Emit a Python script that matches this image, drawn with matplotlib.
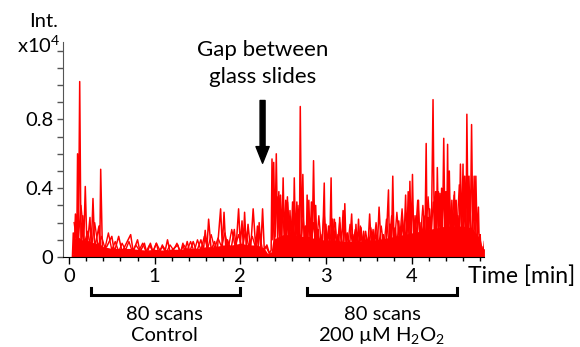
import numpy as np
import matplotlib
matplotlib.use("Agg")
import matplotlib.pyplot as plt

plt.rcParams['font.family'] = ['Lato', 'DejaVu Sans']
plt.rcParams['mathtext.fontset'] = 'custom'
plt.rcParams['mathtext.rm'] = 'Lato'

# main spikes (time in min, intensity x10^4)
peak_t = [0.04, 0.05, 0.06, 0.075, 0.09, 0.10, 0.11, 0.125, 0.14, 0.16, 0.17, 0.19, 0.21,
          0.245, 0.26, 0.28, 0.30, 0.35, 0.36, 0.37, 0.39, 0.44, 0.50, 0.53, 0.58, 0.62,
          0.72, 0.75, 0.80, 0.83, 0.88, 0.91, 0.95, 0.98, 1.02, 1.05, 1.09, 1.12, 1.15,
          1.18, 1.27, 1.30, 1.33, 1.35, 1.38, 1.41, 1.45, 1.49, 1.54, 1.57, 1.59, 1.61,
          1.63, 1.66, 1.70, 1.73, 1.77, 1.79, 1.81, 1.83, 1.85, 1.89, 1.93, 1.95, 1.98,
          2.00, 2.02, 2.035, 2.05, 2.07, 2.09, 2.12, 2.15, 2.18, 2.20, 2.21, 2.22, 2.24,
          2.26, 2.28, 2.31, 2.34, 2.36, 2.37, 2.38, 2.39, 2.405, 2.42, 2.435, 2.45, 2.46,
          2.47, 2.485, 2.50, 2.515, 2.53, 2.54, 2.55, 2.565, 2.58, 2.595, 2.61, 2.62, 2.63,
          2.645, 2.66, 2.67, 2.68, 2.69, 2.70, 2.715, 2.73, 2.745, 2.76, 2.77, 2.78, 2.79,
          2.80, 2.815, 2.83, 2.84, 2.855, 2.87, 2.88, 2.895, 2.91, 2.925, 2.94, 2.96, 2.98,
          2.99, 3.00, 3.015, 3.03, 3.045, 3.06, 3.07, 3.08, 3.095, 3.11, 3.125, 3.14, 3.15,
          3.16, 3.18, 3.20, 3.21, 3.22, 3.235, 3.25, 3.275, 3.30, 3.315, 3.33, 3.34, 3.35,
          3.365, 3.38, 3.395, 3.41, 3.425, 3.44, 3.455, 3.47, 3.49, 3.51, 3.53, 3.55, 3.565,
          3.58, 3.60, 3.62, 3.645, 3.67, 3.70, 3.73, 3.74, 3.75, 3.765, 3.78, 3.795, 3.81,
          3.83, 3.85, 3.87, 3.89, 3.91, 3.93, 3.945, 3.96, 3.97, 3.98, 3.995, 4.01, 4.025,
          4.04, 4.06, 4.08, 4.095, 4.11, 4.125, 4.14, 4.155, 4.17, 4.18, 4.19, 4.20, 4.21,
          4.23, 4.25, 4.265, 4.28, 4.29, 4.30, 4.315, 4.33, 4.34, 4.35, 4.36, 4.375, 4.39,
          4.40, 4.41, 4.42, 4.43, 4.44, 4.455, 4.47, 4.485, 4.50, 4.51, 4.52, 4.53, 4.54,
          4.555, 4.57, 4.585, 4.60, 4.61, 4.62, 4.635, 4.645, 4.66, 4.67, 4.685, 4.70,
          4.715, 4.73, 4.74, 4.75, 4.765, 4.78, 4.79, 4.80, 4.81, 4.82, 4.835, 4.85]
peak_y = [0.0, 0.14, 0.02, 0.25, 0.03, 0.60, 0.05, 1.02, 0.04, 0.24, 0.04, 0.41, 0.05,
          0.23, 0.04, 0.34, 0.05, 0.18, 0.05, 0.51, 0.04, 0.06, 0.12, 0.03, 0.12, 0.03,
          0.13, 0.03, 0.10, 0.03, 0.08, 0.02, 0.08, 0.03, 0.08, 0.02, 0.07, 0.03, 0.10,
          0.03, 0.07, 0.02, 0.08, 0.03, 0.09, 0.03, 0.09, 0.03, 0.10, 0.04, 0.155, 0.05,
          0.22, 0.04, 0.09, 0.03, 0.28, 0.06, 0.26, 0.05, 0.10, 0.04, 0.16, 0.05, 0.28,
          0.07, 0.21, 0.06, 0.26, 0.05, 0.19, 0.04, 0.28, 0.05, 0.18, 0.05, 0.20, 0.05,
          0.28, 0.04, 0.07, 0.02, 0.04, 0.57, 0.10, 0.55, 0.12, 0.60, 0.10, 0.38, 0.08,
          0.36, 0.09, 0.46, 0.08, 0.33, 0.10, 0.35, 0.07, 0.27, 0.08, 0.32, 0.10, 0.46,
          0.07, 0.32, 0.09, 0.24, 0.06, 0.875, 0.08, 0.48, 0.06, 0.18, 0.05, 0.36, 0.08,
          0.33, 0.07, 0.32, 0.09, 0.56, 0.08, 0.30, 0.05, 0.16, 0.05, 0.13, 0.06, 0.43,
          0.07, 0.19, 0.05, 0.18, 0.07, 0.46, 0.08, 0.22, 0.06, 0.20, 0.05, 0.13, 0.05,
          0.23, 0.06, 0.27, 0.08, 0.31, 0.05, 0.14, 0.05, 0.25, 0.05, 0.13, 0.06, 0.19,
          0.05, 0.22, 0.06, 0.17, 0.05, 0.15, 0.05, 0.12, 0.06, 0.25, 0.06, 0.16, 0.05,
          0.16, 0.06, 0.29, 0.05, 0.13, 0.05, 0.39, 0.07, 0.19, 0.06, 0.47, 0.06, 0.17,
          0.06, 0.21, 0.06, 0.22, 0.07, 0.36, 0.08, 0.38, 0.10, 0.44, 0.09, 0.48, 0.07,
          0.24, 0.08, 0.33, 0.07, 0.20, 0.08, 0.24, 0.09, 0.66, 0.10, 0.23, 0.09, 0.28,
          0.10, 0.915, 0.10, 0.38, 0.10, 0.52, 0.10, 0.37, 0.12, 0.40, 0.10, 0.69, 0.10,
          0.38, 0.12, 0.655, 0.10, 0.50, 0.09, 0.33, 0.10, 0.38, 0.12, 0.33, 0.10, 0.24,
          0.09, 0.54, 0.12, 0.54, 0.11, 0.47, 0.10, 0.83, 0.12, 0.47, 0.10, 0.77,
          0.11, 0.47, 0.12, 0.47, 0.10, 0.29, 0.06, 0.13, 0.03, 0.06, 0.02, 0.09]

# smaller overlapping scans (texture)
ctrl_y = [0.2, 0.05, 0.3, 0.08, 0.15, 0.04, 0.2, 0.06, 0.12, 0.05,
          0.14, 0.04, 0.09, 0.03, 0.08, 0.04, 0.09, 0.03, 0.07, 0.04,
          0.08, 0.03, 0.07, 0.03, 0.08, 0.04, 0.06, 0.03, 0.07, 0.04,
          0.08, 0.03, 0.07, 0.04, 0.09, 0.03, 0.1, 0.04, 0.12, 0.05,
          0.13, 0.05, 0.11, 0.06, 0.14, 0.05, 0.16, 0.06, 0.13, 0.05,
          0.15, 0.06, 0.12, 0.05, 0.14, 0.04, 0.06, 0.02]
h2o2_y = [0.3, 0.08, 0.35, 0.1, 0.28, 0.07, 0.32, 0.09, 0.25, 0.06,
          0.3, 0.08, 0.22, 0.06, 0.27, 0.07, 0.2, 0.05, 0.24, 0.06,
          0.26, 0.07, 0.18, 0.05, 0.22, 0.06, 0.2, 0.05, 0.17, 0.05,
          0.19, 0.06, 0.16, 0.05, 0.18, 0.05, 0.15, 0.04, 0.17, 0.05,
          0.2, 0.06, 0.18, 0.05, 0.22, 0.07, 0.24, 0.06, 0.26, 0.08,
          0.28, 0.07, 0.25, 0.08, 0.3, 0.09, 0.33, 0.1, 0.3, 0.09,
          0.35, 0.1, 0.32, 0.11, 0.38, 0.1, 0.34, 0.12, 0.4, 0.11,
          0.36, 0.12, 0.42, 0.11, 0.38, 0.1, 0.3, 0.08, 0.2, 0.05,
          0.1, 0.03]
ctrl_t = np.linspace(0.06, 2.34, len(ctrl_y))
h2o2_t = np.linspace(2.37, 4.83, len(h2o2_y))

# solid band at the bottom where all scans overlap
base_t = [0.04, 0.05, 0.1, 0.15, 0.2, 0.25, 0.3, 0.35, 0.4, 0.5, 0.6, 0.7, 0.8, 0.9, 1.0,
          1.1, 1.2, 1.3, 1.4, 1.5, 1.6, 1.7, 1.8, 1.9, 2.0, 2.1, 2.2, 2.28, 2.32, 2.36,
          2.38, 2.45, 2.5, 2.6, 2.7, 2.8, 2.9, 3.0, 3.1, 3.2, 3.3, 3.4, 3.5, 3.6, 3.7,
          3.8, 3.9, 4.0, 4.1, 4.2, 4.3, 4.4, 4.5, 4.6, 4.7, 4.78, 4.82, 4.85]
base_y = [0.0, 0.1, 0.12, 0.1, 0.1, 0.09, 0.08, 0.08, 0.06, 0.05, 0.05, 0.05, 0.045,
          0.04, 0.045, 0.04, 0.045, 0.045, 0.05, 0.05, 0.06, 0.06, 0.07, 0.07, 0.08,
          0.07, 0.07, 0.05, 0.02, 0.03, 0.1, 0.12, 0.13, 0.13, 0.12, 0.12, 0.1, 0.1, 0.1,
          0.09, 0.09, 0.09, 0.1, 0.1, 0.11, 0.12, 0.13, 0.14, 0.15, 0.16, 0.17, 0.18,
          0.18, 0.18, 0.17, 0.12, 0.04, 0.05]

red = '#ff0000'
fig = plt.figure(figsize=(5.8, 3.47), dpi=100)
ax = fig.add_axes([63 / 580, 1 - 257 / 347, 421 / 580, 215 / 347])

ax.fill_between(base_t, 0, base_y, color=red, lw=0)
ax.plot(ctrl_t, ctrl_y, color=red, lw=1.0)
ax.plot(h2o2_t, h2o2_y, color=red, lw=1.0)
ax.plot(peak_t, peak_y, color=red, lw=1.1)

ax.set_xlim(-0.07, 4.845)
ax.set_ylim(0, 1.25)
ax.set_xticks([0, 1, 2, 3, 4])
ax.set_xticks(np.arange(0, 4.81, 0.2), minor=True)
ax.set_yticks([0, 0.4, 0.8])
ax.set_yticklabels(['0', '0.4', '0.8'])
ax.set_yticks(np.arange(0, 1.21, 0.1), minor=True)
ax.tick_params(axis='both', which='both', direction='out', labelsize=14.5)
ax.tick_params(axis='x', which='major', length=5, width=1, pad=3)
ax.tick_params(axis='x', which='minor', length=3, width=1)
ax.tick_params(axis='y', which='both', length=4, width=1, colors='#555555',
               labelcolor='black', pad=3)
for s in ['top', 'right']:
    ax.spines[s].set_visible(False)
ax.spines['left'].set_color('#555555')
ax.spines['bottom'].set_color('black')

fig.text(44 / 580, 1 - 26.7 / 347, 'Int.', ha='center', va='baseline', fontsize=14.5)
fig.text(17 / 580, 1 - 52.3 / 347, r'x10$^{\mathregular{4}}$', ha='left', va='baseline',
         fontsize=14.5)
ax.text(4.66, -0.153, 'Time [min]', ha='left', va='baseline', fontsize=16.5,
        clip_on=False)

ax.text(2.264, 1.171, 'Gap between', ha='center', va='baseline', fontsize=16)
ax.text(2.264, 1.014, 'glass slides', ha='center', va='baseline', fontsize=16)
ax.annotate('', xy=(2.26, 0.545), xytext=(2.26, 0.91),
            arrowprops=dict(facecolor='black', edgecolor='black', width=3.6,
                            headwidth=9.5, headlength=12))

# scan brackets below the axis
for x0, x1 in [(0.257, 2.0), (2.78, 4.535)]:
    ax.plot([x0, x0, x1, x1], [-0.18, -0.222, -0.222, -0.18], color='black', lw=2.2,
            clip_on=False, solid_joinstyle='miter')
ax.text(1.12, -0.365, '80 scans', ha='center', va='baseline', fontsize=14.5)
ax.text(1.12, -0.49, 'Control', ha='center', va='baseline', fontsize=14.5)
ax.text(3.655, -0.365, '80 scans', ha='center', va='baseline', fontsize=14.5)
ax.text(3.65, -0.49, '200 µM H$_\\mathregular{2}$O$_\\mathregular{2}$', ha='center',
        va='baseline', fontsize=14.5)

fig.savefig('out.png', dpi=100)
